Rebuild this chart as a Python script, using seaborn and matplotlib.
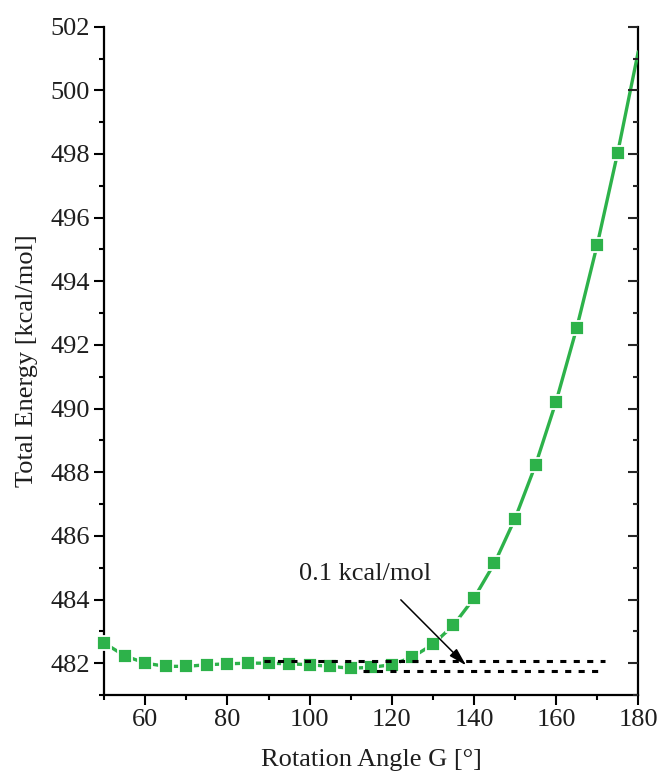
import matplotlib
matplotlib.use("Agg")
import matplotlib.pyplot as plt
import seaborn as sns
import pandas as pd
from matplotlib.ticker import MultipleLocator

# ---- data ----
angles = [50, 55, 60, 65, 70, 75, 80, 85, 90, 95, 100, 105, 110, 115, 120,
          125, 130, 135, 140, 145, 150, 155, 160, 165, 170, 175]
energy = [482.63, 482.23, 482.00, 481.90, 481.90, 481.95, 481.98, 482.00,
          482.00, 481.98, 481.95, 481.90, 481.84, 481.87, 481.95, 482.19,
          482.59, 483.19, 484.04, 485.14, 486.54, 488.23, 490.22, 492.52,
          495.14, 498.04]
line_end_angle = [180]
line_end_energy = [501.21]

upper_ref_x = [89, 172]
upper_ref_y = [482.07, 482.07]
lower_ref_x = [113, 170.5]
lower_ref_y = [481.74, 481.74]

annot_text = "0.1 kcal/mol"
annot_text_xy = (113.5, 484.8)
annot_arrow_start = (122.2, 483.99)
annot_arrow_end = (138.1, 481.93)

x_label = "Rotation Angle G [°]"
y_label = "Total Energy [kcal/mol]"

# ---- styling ----
sns.set_theme(style="white")
plt.rcParams["font.family"] = ["Liberation Serif", "DejaVu Serif"]
GREEN = "#2DB24A"
TXT = "#1E1E1E"
FS = 19

fig = plt.figure(figsize=(6.6, 7.76), dpi=100)
ax = fig.add_axes([0.158, 0.1044, 0.809, 0.8612])

line_df = pd.DataFrame({"angle": angles + line_end_angle,
                        "energy": energy + line_end_energy})
pts_df = pd.DataFrame({"angle": angles, "energy": energy})

sns.lineplot(data=line_df, x="angle", y="energy", color=GREEN, lw=2.4,
             ax=ax, zorder=3)
sns.scatterplot(data=pts_df, x="angle", y="energy", marker="s", s=112,
                color=GREEN, edgecolor="white", linewidth=1.3, ax=ax,
                zorder=4, clip_on=False)

for xs, ys in [(upper_ref_x, upper_ref_y), (lower_ref_x, lower_ref_y)]:
    ax.plot(xs, ys, color="black", lw=2.2, linestyle=(0, (2.0, 2.4)),
            zorder=5, dash_capstyle="butt")

ax.annotate("", xy=annot_arrow_end, xytext=annot_arrow_start,
            arrowprops=dict(arrowstyle="-|>,head_length=0.9,head_width=0.25",
                            color="black", lw=1.1, shrinkA=0, shrinkB=0),
            zorder=6)
ax.text(annot_text_xy[0], annot_text_xy[1], annot_text, ha="center",
        va="center", fontsize=FS, color=TXT)

ax.set_xlim(50, 180)
ax.set_ylim(481, 502)
ax.xaxis.set_major_locator(MultipleLocator(20))
ax.xaxis.set_minor_locator(MultipleLocator(10))
ax.yaxis.set_major_locator(MultipleLocator(2))
ax.yaxis.set_minor_locator(MultipleLocator(1))
ax.set_xticks([60, 80, 100, 120, 140, 160, 180])

for side in ["left", "bottom", "right"]:
    ax.spines[side].set_visible(True)
    ax.spines[side].set_color("black")
    ax.spines[side].set_linewidth(1.6)
ax.spines["top"].set_visible(False)

ax.tick_params(axis="both", which="major", length=7.2, width=1.5,
               colors="black", labelcolor=TXT, labelsize=FS, direction="out")
ax.tick_params(axis="both", which="minor", length=3.6, width=1.5,
               colors="black", direction="out")
ax.tick_params(axis="x", which="both", bottom=True, top=False, pad=3)
ax.tick_params(axis="y", which="both", left=True, right=False, pad=3)

ax2 = ax.twinx()
ax2.set_ylim(ax.get_ylim())
ax2.yaxis.set_major_locator(MultipleLocator(2))
ax2.yaxis.set_minor_locator(MultipleLocator(1))
ax2.tick_params(axis="y", which="major", length=7.2, width=1.5,
                direction="in", labelright=False, right=True)
ax2.tick_params(axis="y", which="minor", length=3.6, width=1.5,
                direction="in", right=True)
for s in ax2.spines.values():
    s.set_visible(False)
ax2.grid(False)

ax.set_xlabel(x_label, fontsize=FS, color=TXT, labelpad=13)
ax.set_ylabel(y_label, fontsize=FS, color=TXT, labelpad=9)
ax.grid(False)

fig.savefig("out.png", dpi=100)
